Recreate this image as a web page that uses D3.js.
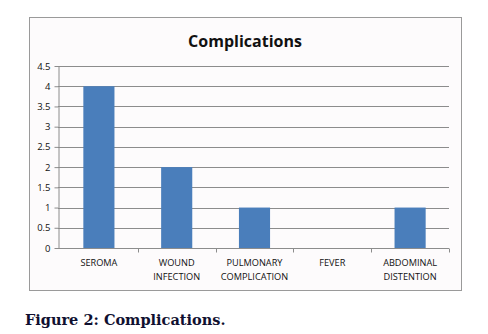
<!DOCTYPE html>
<html>
<head>
<meta charset="utf-8">
<script src="https://cdn.jsdelivr.net/npm/d3@7"></script>
<style>
  body { margin: 0; background: #fff; }
  svg { display: block; }
  .tick text { font-family: "Open Sans", sans-serif; font-size: 9.5px; fill: #111; }
</style>
</head>
<body>
<div id="chart"></div>
<script>
// Chart values
const categories = [
  ['SEROMA'],
  ['WOUND', 'INFECTION'],
  ['PULMONARY', 'COMPLICATION'],
  ['FEVER'],
  ['ABDOMINAL', 'DISTENTION']
];
const counts = [4, 2, 1, 0, 1];
const yTicks = [0, 0.5, 1, 1.5, 2, 2.5, 3, 3.5, 4, 4.5];

const width = 488, height = 334;
const plot = { left: 58, right: 449, top: 66, bottom: 248 };

const svg = d3.select('#chart').append('svg')
  .attr('width', width)
  .attr('height', height);

// Chart frame
svg.append('rect')
  .attr('x', 29.5).attr('y', 17.5)
  .attr('width', 432).attr('height', 273)
  .attr('fill', '#fdfbfc')
  .attr('stroke', '#9a9a9a')
  .attr('stroke-width', 1);

svg.append('text')
  .attr('x', 245).attr('y', 47)
  .attr('text-anchor', 'middle')
  .style('font-family', '"Open Sans", sans-serif')
  .style('font-weight', 'bold')
  .style('font-size', '16px')
  .attr('fill', '#111')
  .text('Complications');

const labels = categories.map((c) => c.join(' '));

// category bands start a touch right of the value axis, as in the source
const xOuter = d3.scaleBand()
  .domain(labels)
  .range([plot.left + 2, plot.right]);

const x = d3.scaleBand()
  .domain(labels)
  .range([plot.left + 2, plot.right])
  .paddingInner(0.6)
  .paddingOuter(0.3);

const y = d3.scaleLinear()
  .domain([0, 4.5])
  .range([plot.bottom, plot.top]);

// Gridlines
svg.append('g')
  .selectAll('line')
  .data(yTicks.filter((d) => d > 0))
  .join('line')
    .attr('x1', plot.left).attr('x2', plot.right)
    .attr('y1', (d) => Math.round(y(d)) + 0.5)
    .attr('y2', (d) => Math.round(y(d)) + 0.5)
    .attr('stroke', '#8c8c8c')
    .attr('stroke-width', 1);

// Bars
svg.append('g')
  .selectAll('rect')
  .data(counts)
  .join('rect')
    .attr('x', (d, i) => x(labels[i]))
    .attr('y', (d) => y(d))
    .attr('width', x.bandwidth())
    .attr('height', (d) => y(0) - y(d))
    .attr('fill', '#4a7ebb');

// Y axis
const yAxis = svg.append('g')
  .attr('transform', `translate(${plot.left + 0.5},0)`)
  .call(d3.axisLeft(y).tickValues(yTicks).tickSize(4).tickSizeOuter(0)
    .tickFormat((d) => String(d)));
yAxis.selectAll('.domain, line').attr('stroke', '#8c8c8c');
yAxis.selectAll('text').attr('x', -8);

// X axis: ticks on category boundaries
const xAxisG = svg.append('g')
  .attr('transform', `translate(0,${Math.round(y(0)) + 0.5})`);
xAxisG.append('line')
  .attr('x1', plot.left).attr('x2', plot.right)
  .attr('stroke', '#8c8c8c');
xAxisG.selectAll('.bnd')
  .data(labels.slice(1).map((l) => xOuter(l)).concat([plot.right]))
  .join('line')
    .attr('class', 'bnd')
    .attr('x1', (d) => Math.round(d) + 0.5).attr('x2', (d) => Math.round(d) + 0.5)
    .attr('y1', 0).attr('y2', 4)
    .attr('stroke', '#8c8c8c');

const catText = svg.append('g')
  .selectAll('text')
  .data(categories)
  .join('text')
    .attr('text-anchor', 'middle')
    .attr('x', (d, i) => x(labels[i]) + x.bandwidth() / 2)
    .attr('y', 266)
    .style('font-family', '"Open Sans", sans-serif')
    .style('font-size', '9.2px')
    .attr('fill', '#111');
catText.selectAll('tspan')
  .data((d) => d)
  .join('tspan')
    .attr('x', function () { return d3.select(this.parentNode).attr('x'); })
    .attr('dy', (d, i) => i === 0 ? 0 : 14)
    .text((d) => d);

// Caption
svg.append('text')
  .attr('x', 25).attr('y', 325)
  .style('font-family', '"DejaVu Serif", serif')
  .style('font-weight', 'bold')
  .style('font-size', '14.5px')
  .attr('fill', '#101030')
  .text('Figure 2: Complications.');
</script>
</body>
</html>
